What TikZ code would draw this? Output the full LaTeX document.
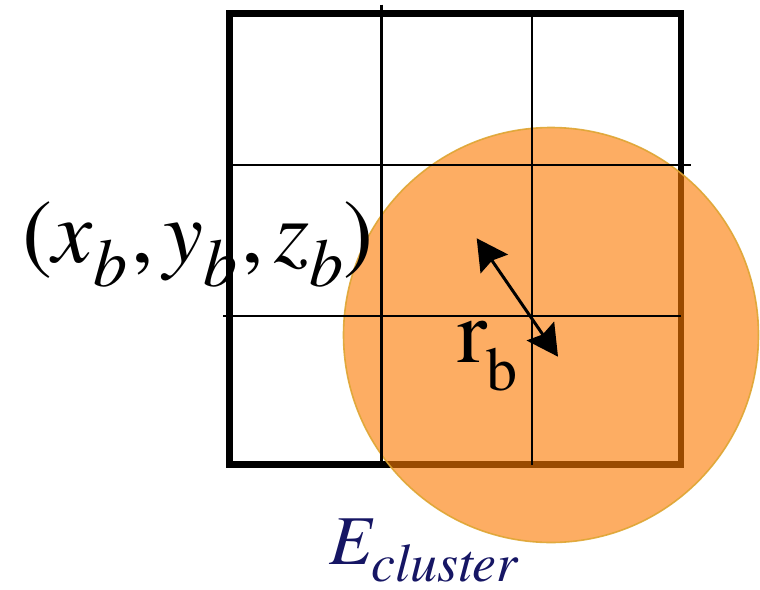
\documentclass[tikz,border=0pt]{standalone}
\usepackage{fontspec}
\setmainfont{TeX Gyre Termes}
\usetikzlibrary{arrows.meta}
\definecolor{orangefill}{RGB}{251,121,0}
\definecolor{goldline}{RGB}{222,165,50}
\definecolor{navytext}{RGB}{22,22,100}
\newcommand\lowsub[3]{\raisebox{-#1pt}{\fontsize{#2}{#2}\selectfont #3}}
\newcommand\flatsub[3]{\raisebox{-#1pt}[0pt][0pt]{\fontsize{#2}{#2}\selectfont #3}}
\tikzset{
  thickframe/.style={line width=6.5pt, draw=black},
  gridline/.style={line width=2.8pt, draw=black},
  blob/.style={fill=orangefill, fill opacity=0.61, draw=goldline, draw opacity=0.9, line width=1.6pt},
  radiusarrow/.style={line width=3pt, {Stealth[length=31pt,width=33pt,inset=4pt]}-{Stealth[length=31pt,width=33pt,inset=4pt]}},
  lbl/.style={anchor=base west, inner sep=0pt, outer sep=0pt}
}
\begin{document}
\begin{tikzpicture}[x=1pt,y=-1pt]
\useasboundingbox (0,0) rectangle (760,589);
% outer thick frame
\draw[thickframe] (229.5,13.5) rectangle (681,464.5);
% cluster sphere
\coordinate (c) at (551,335);
\path[blob] (c) circle (207.5);
% grid lines
\coordinate (v1t) at (381.5,4.5);  \coordinate (v1b) at (381.5,464.5);
\coordinate (v2t) at (532,13.5);   \coordinate (v2b) at (532,464.5);
\coordinate (h1l) at (229.5,165);  \coordinate (h1r) at (690.5,165);
\coordinate (h2l) at (223,316);    \coordinate (h2r) at (681,316);
\draw[gridline] (v1t) -- (v1b);
\draw[gridline] (v2t) -- (v2b);
\draw[gridline] (h1l) -- (h1r);
\draw[gridline] (h2l) -- (h2r);
% radius arrow
\coordinate (ra) at (476.7,238.3);
\coordinate (rb) at (558,356.7);
\draw[radiusarrow] (ra) -- (rb);
% labels
\node[lbl] (pos) at (23,262) {\fontsize{90}{90}\selectfont(\textit{x}\lowsub{24}{68}{\itshape b}\hspace{4pt},\hspace{10pt}\textit{y}\lowsub{24}{68}{\itshape b}\hspace{4pt},\hspace{10pt}\textit{z}\lowsub{24}{68}{\itshape b})};
\node[lbl] (rlab) at (457,362) {\fontsize{90}{90}\selectfont r\lowsub{28}{62}{b}};
\node[lbl, text=navytext] (elab) at (329,564) {\fontsize{70}{70}\selectfont\itshape E\flatsub{17}{54}{cluster}};
\end{tikzpicture}
\end{document}
